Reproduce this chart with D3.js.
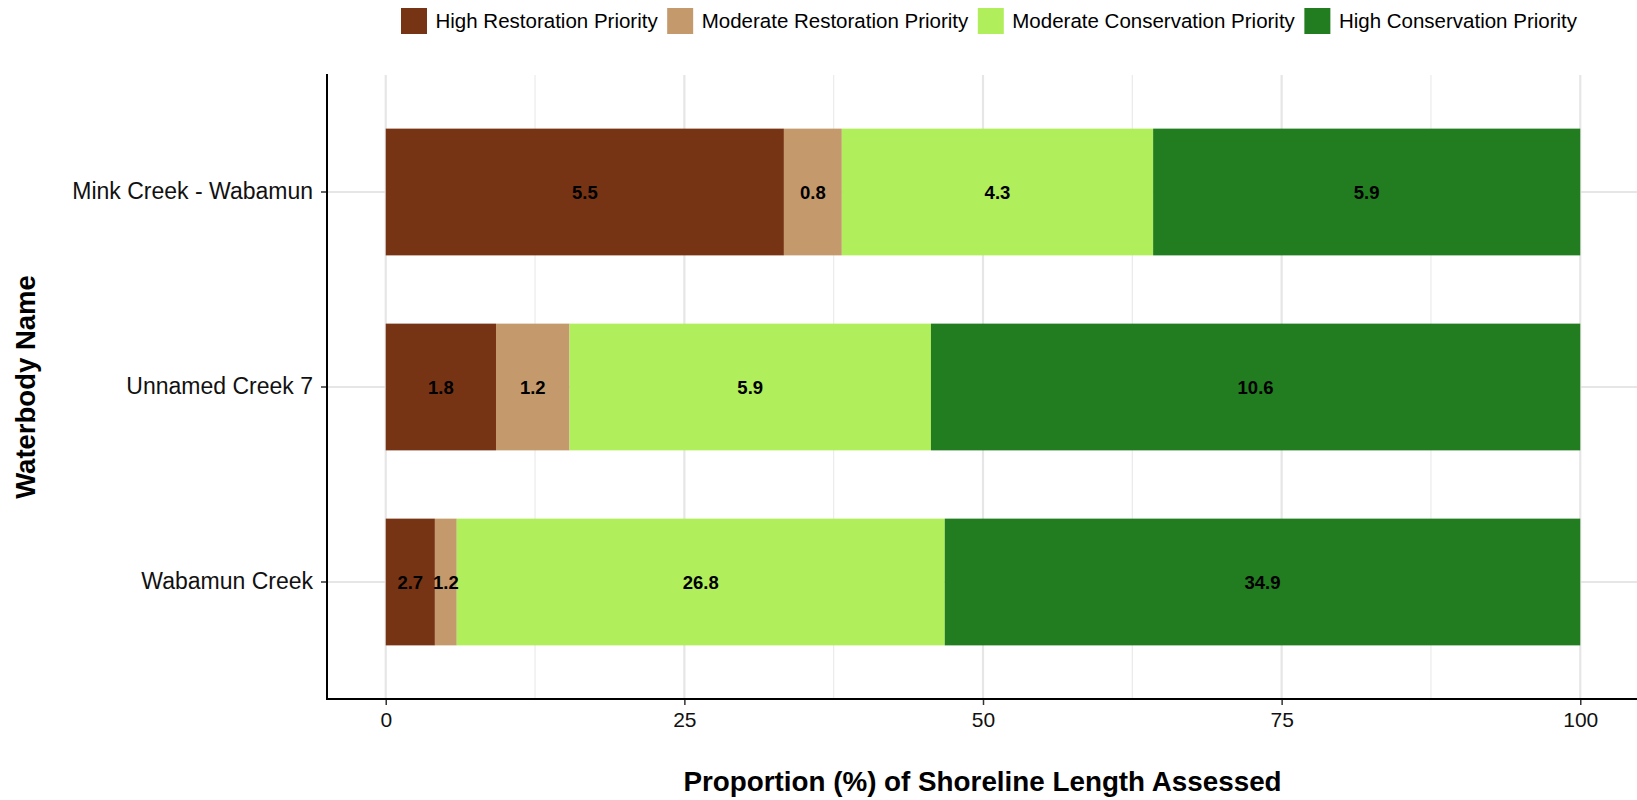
<!DOCTYPE html>
<html>
<head>
<meta charset="utf-8">
<script src="https://cdn.jsdelivr.net/npm/d3@7/dist/d3.min.js"></script>
<style>
  html, body { margin: 0; padding: 0; background: #fff; }
  svg { display: block; font-family: "Liberation Sans", Arial, Helvetica, sans-serif; }
</style>
</head>
<body>
<svg id="chart" width="1637" height="800"></svg>
<script>
// ---- data ----
const categories = ["Mink Creek - Wabamun", "Unnamed Creek 7", "Wabamun Creek"];
const seriesNames = ["High Restoration Priority", "Moderate Restoration Priority",
                     "Moderate Conservation Priority", "High Conservation Priority"];
const highRestoration   = [5.5, 1.8, 2.7];
const modRestoration    = [0.8, 1.2, 1.2];
const modConservation   = [4.3, 5.9, 26.8];
const highConservation  = [5.9, 10.6, 34.9];
const xTickValues = [0, 25, 50, 75, 100];
const xMinorValues = [12.5, 37.5, 62.5, 87.5];
const seriesColors = ["#773414", "#C49A6C", "#B1EE5B", "#217D1F"];

// ---- build table ----
const seriesValues = [highRestoration, modRestoration, modConservation, highConservation];
const rows = categories.map((c, i) => {
  const r = { cat: c };
  seriesNames.forEach((s, j) => { r[s] = seriesValues[j][i]; });
  return r;
});
const stacked = d3.stack().keys(seriesNames).offset(d3.stackOffsetExpand)(rows);

// ---- layout ----
const svg = d3.select("#chart");
const panel = { left: 326, right: 1640, top: 75, bottom: 699 };
const x = d3.scaleLinear().domain([-5, 105]).range([panel.left, panel.right]);
const y = d3.scaleBand().domain(categories).range([panel.top, panel.bottom])
  .paddingInner(0.35).paddingOuter(0.275);

// grid
const grid = svg.append("g");
grid.selectAll("line.minor").data(xMinorValues).enter().append("line")
  .attr("x1", d => x(d)).attr("x2", d => x(d))
  .attr("y1", panel.top).attr("y2", panel.bottom)
  .attr("stroke", "#ebebeb").attr("stroke-width", 1.2);
grid.selectAll("line.majorx").data(xTickValues).enter().append("line")
  .attr("x1", d => x(d)).attr("x2", d => x(d))
  .attr("y1", panel.top).attr("y2", panel.bottom)
  .attr("stroke", "#e6e6e6").attr("stroke-width", 2.2);
grid.selectAll("line.majory").data(categories).enter().append("line")
  .attr("x1", panel.left).attr("x2", panel.right)
  .attr("y1", d => y(d) + y.bandwidth() / 2).attr("y2", d => y(d) + y.bandwidth() / 2)
  .attr("stroke", "#e6e6e6").attr("stroke-width", 2.2);

// bars
const layers = svg.append("g").selectAll("g").data(stacked).enter().append("g")
  .attr("fill", (d, i) => seriesColors[i]);
layers.selectAll("rect").data(d => d.map(p => ({ p, key: d.key }))).enter().append("rect")
  .attr("x", d => x(d.p[0] * 100))
  .attr("width", d => x(d.p[1] * 100) - x(d.p[0] * 100))
  .attr("y", d => y(d.p.data.cat))
  .attr("height", y.bandwidth());

// labels
const labelG = svg.append("g");
stacked.forEach(layer => {
  layer.forEach(p => {
    labelG.append("text")
      .attr("x", x((p[0] + p[1]) / 2 * 100))
      .attr("y", y(p.data.cat) + y.bandwidth() / 2)
      .attr("dy", "0.36em")
      .attr("text-anchor", "middle")
      .attr("font-weight", "bold")
      .attr("font-size", 18.5)
      .attr("fill", "#000")
      .text(p.data[layer.key]);
  });
});

// axes
const xAxis = svg.append("g").attr("transform", `translate(0,${panel.bottom})`)
  .call(d3.axisBottom(x).tickValues(xTickValues).tickSize(6).tickPadding(7).tickSizeOuter(0));
xAxis.select(".domain").remove();
xAxis.selectAll(".tick line").attr("stroke", "#333").attr("stroke-width", 1.5);
xAxis.selectAll(".tick text").attr("font-size", 21).attr("fill", "#111")
  .attr("font-family", "'Liberation Sans', Arial, sans-serif");

const yAxis = svg.append("g").attr("transform", `translate(${panel.left + 1},0)`)
  .call(d3.axisLeft(y).tickSize(6).tickPadding(8).tickSizeOuter(0));
yAxis.select(".domain").remove();
yAxis.selectAll(".tick line").attr("stroke", "#333").attr("stroke-width", 1.5);
yAxis.selectAll(".tick text").attr("font-size", 23).attr("fill", "#111")
  .attr("font-family", "'Liberation Sans', Arial, sans-serif");

// axis lines
svg.append("line").attr("x1", panel.left + 1).attr("x2", panel.left + 1)
  .attr("y1", panel.top - 1).attr("y2", panel.bottom + 1)
  .attr("stroke", "#000").attr("stroke-width", 2);
svg.append("line").attr("x1", panel.left).attr("x2", 1637)
  .attr("y1", panel.bottom).attr("y2", panel.bottom)
  .attr("stroke", "#000").attr("stroke-width", 2);

// axis titles
svg.append("text").attr("x", (panel.left + 1637) / 2 + 1).attr("y", 791)
  .attr("text-anchor", "middle").attr("font-weight", "bold").attr("font-size", 27.8)
  .attr("fill", "#000").text("Proportion (%) of Shoreline Length Assessed");
svg.append("text").attr("transform", `translate(35,${(panel.top + panel.bottom) / 2}) rotate(-90)`)
  .attr("text-anchor", "middle").attr("font-weight", "bold").attr("font-size", 27.5)
  .attr("fill", "#000").text("Waterbody Name");

// legend
const legend = svg.append("g");
let lx = 401;
seriesNames.forEach((s, i) => {
  legend.append("rect").attr("x", lx).attr("y", 8).attr("width", 26).attr("height", 26)
    .attr("fill", seriesColors[i]);
  const t = legend.append("text").attr("x", lx + 34.5).attr("y", 21).attr("dy", "0.36em")
    .attr("font-size", 20.5).attr("fill", "#000").text(s);
  lx += 34.5 + t.node().getComputedTextLength() + 9.5;
});
</script>
</body>
</html>
